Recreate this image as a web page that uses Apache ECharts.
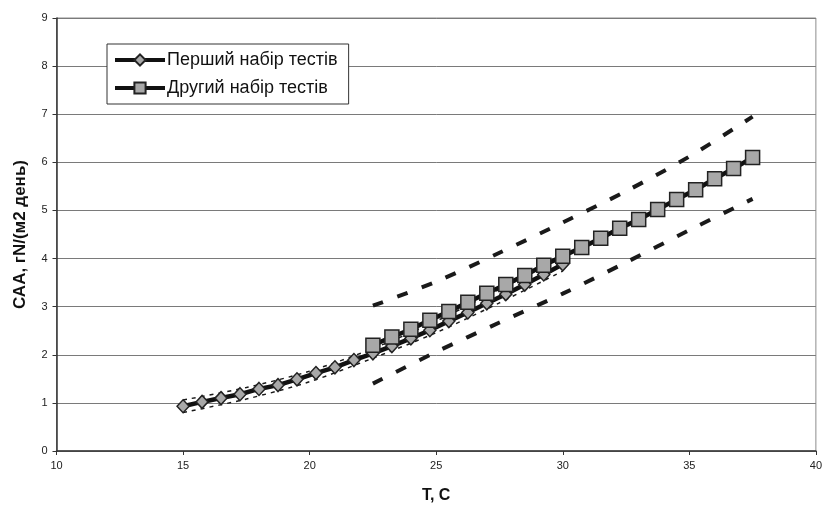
<!DOCTYPE html>
<html><head><meta charset="utf-8">
<script src="https://cdn.jsdelivr.net/npm/echarts@6/dist/echarts.min.js"></script>
<style>html,body{margin:0;padding:0;background:#fff}#c{width:825px;height:509px}</style>
</head><body><div id="c"></div>
<script>
// Data
var series1Name = 'Перший набір тестів';
var series2Name = 'Другий набір тестів';
var s1X = [15,15.75,16.5,17.25,18,18.75,19.5,20.25,21,21.75,22.5,23.25,24,24.75,25.5,26.25,27,27.75,28.5,29.25,30];
var s1Y = [0.93,1.02,1.10,1.18,1.29,1.37,1.49,1.62,1.74,1.89,2.03,2.18,2.34,2.51,2.70,2.88,3.07,3.26,3.46,3.67,3.88];
var s2X = [22.5,23.25,24,24.75,25.5,26.25,27,27.75,28.5,29.25,30,30.75,31.5,32.25,33,33.75,34.5,35.25,36,36.75,37.5];
var s2Y = [2.20,2.37,2.53,2.72,2.90,3.09,3.28,3.46,3.65,3.86,4.05,4.23,4.42,4.63,4.81,5.02,5.23,5.43,5.66,5.87,6.10];
// thin dashed band around first set
var thinX = [15,17.5,20,22.5,25,27.5,30];
var thinUpY = [1.06,1.32,1.66,2.13,2.70,3.36,4.02];
var thinLoY = [0.80,1.08,1.44,1.93,2.46,3.08,3.74];
// thick dashed band around second set
var bandX = [22.5,25,27.5,30,32.5,35,37.5];
var bandUpY = [3.02,3.52,4.12,4.75,5.40,6.12,6.95];
var bandLoY = [1.40,2.06,2.67,3.27,3.92,4.59,5.24];
var xTicks = {min:10,max:40,interval:5};
var yTicks = {min:0,max:9,interval:1};

function pairs(xs, ys){ return xs.map(function(x,i){return [x, ys[i]];}); }

var chart = echarts.init(document.getElementById('c'), null, {renderer:'canvas'});
var labelFont = 'Liberation Sans, Arial, sans-serif';
function dashSeries(xs, ys, w, dash){
  return {type:'line', data:pairs(xs,ys), smooth:0.3, showSymbol:false, symbol:'none', silent:true,
    lineStyle:{color:'#1a1a1a', width:w, type:dash, cap:'butt'}, z:1};
}
chart.setOption({
  animation:false,
  grid:{left:56.5, right:6, top:18, bottom:57, show:true, borderColor:'#8c8c8c', borderWidth:1},
  legend:{
    data:[series1Name, series2Name], orient:'vertical', left:107, top:44,
    backgroundColor:'#fff', borderColor:'#333', borderWidth:1, padding:[7,11,7,6],
    itemWidth:50, itemHeight:14, itemGap:10,
    lineStyle:{width:4, color:'#111'},
    textStyle:{fontFamily:labelFont, fontSize:18, color:'#111', padding:[0,0,0,-3]}
  },
  xAxis:{type:'value', min:xTicks.min, max:xTicks.max, interval:xTicks.interval,
    name:'T, C', nameLocation:'middle', nameGap:37,
    nameTextStyle:{fontFamily:labelFont, fontWeight:'bold', fontSize:16, color:'#111'},
    axisLine:{lineStyle:{color:'#333', width:1.5}},
    axisTick:{show:true, length:4, lineStyle:{color:'#333'}},
    axisLabel:{fontFamily:'Liberation Sans Narrow, Liberation Sans, Arial', fontSize:11, color:'#222', margin:9},
    splitLine:{show:false}},
  yAxis:{type:'value', min:yTicks.min, max:yTicks.max, interval:yTicks.interval,
    name:'САА, гN/(м2 день)', nameLocation:'middle', nameGap:28,
    nameTextStyle:{fontFamily:labelFont, fontWeight:'bold', fontSize:17, color:'#111'},
    axisLine:{show:true, lineStyle:{color:'#333', width:1.5}},
    axisTick:{show:true, length:4, lineStyle:{color:'#333'}},
    axisLabel:{fontFamily:labelFont, fontSize:11, color:'#222', margin:9},
    splitLine:{show:true, lineStyle:{color:'#7a7a7a', width:1}}},
  series:[
    dashSeries(thinX, thinUpY, 1.5, [4,5]),
    dashSeries(thinX, thinLoY, 1.5, [4,5]),
    dashSeries(bandX, bandUpY, 4, [11,15]),
    dashSeries(bandX, bandLoY, 4, [11,15]),
    {name:series1Name, type:'line', data:pairs(s1X,s1Y), symbol:'diamond', symbolSize:[12,13],
     lineStyle:{color:'#111', width:4.5}, itemStyle:{color:'#a8a8a8', borderColor:'#222', borderWidth:1.5}, z:3},
    {name:series2Name, type:'line', data:pairs(s2X,s2Y), symbol:'rect', symbolSize:14,
     lineStyle:{color:'#111', width:4.5}, itemStyle:{color:'#a8a8a8', borderColor:'#222', borderWidth:1.5}, z:4}
  ]
});
</script></body></html>
